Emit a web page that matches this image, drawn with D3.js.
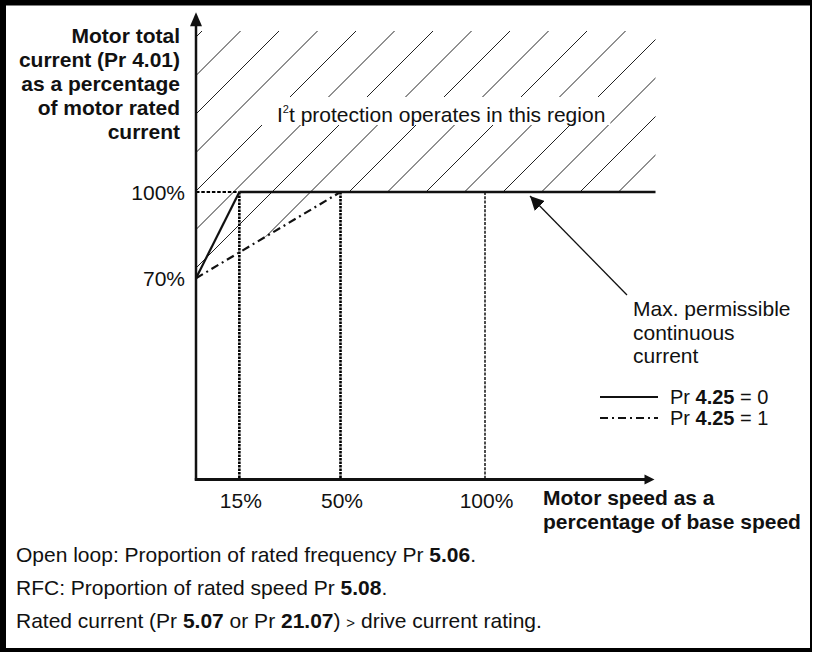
<!DOCTYPE html>
<html>
<head>
<meta charset="utf-8">
<script src="https://cdn.jsdelivr.net/npm/d3@7/dist/d3.min.js"></script>
<style>
  html, body { margin: 0; padding: 0; background: #fff; }
  svg { display: block; }
  text { font-family: "Liberation Sans", Arial, Helvetica, sans-serif; fill: #111; }
</style>
</head>
<body>
<svg id="chart" width="813" height="652"></svg>
<script>
// ---- data ----
const speedTicks = [15, 50, 100];                 // % of base speed (x)
const speedTickLabels = ["15%", "50%", "100%"];
const currentTicks = [70, 100];                   // % of rated current (y)
const currentTickLabels = ["70%", "100%"];
const curveSpeed0 = [0, 15, 159];                 // Pr 4.25 = 0 (solid)
const curveCurrent0 = [70, 100, 100];
const curveSpeed1 = [0, 50];                      // Pr 4.25 = 1 (dash-dot)
const curveCurrent1 = [70, 100];
const xMax = 159, yMaxHatch = 156, yMaxAxis = 162.5;
const yTitleLines = ["Motor total", "current (Pr 4.01)", "as a percentage", "of motor rated", "current"];
const xTitleLines = ["Motor speed as a", "percentage of base speed"];
const noteLines = ["Max. permissible", "continuous", "current"];

const svg = d3.select("#chart");
const FS = 21;
const ink = "#111";

// frame
svg.append("rect").attr("x", 0).attr("y", 0).attr("width", 812).attr("height", 652).attr("fill", "#000");
svg.append("rect").attr("x", 6).attr("y", 5.5).attr("width", 804).attr("height", 642.5).attr("fill", "#fff");

const x = d3.scaleLinear().domain([0, 100]).range([196, 485]);
const y = d3.scaleLinear().domain([0, 100]).range([479.5, 192]);

const defs = svg.append("defs");
// hatch clip: region above the lower (Pr 4.25 = 1) limit
const clipPts = [[0, yMaxHatch], [0, 70], [50, 100], [xMax, 100], [xMax, yMaxHatch]];
defs.append("clipPath").attr("id", "hclip").append("polygon")
  .attr("points", clipPts.map(p => [x(p[0]), y(p[1])].join(",")).join(" "));
defs.append("marker").attr("id", "ah").attr("viewBox", "0 0 10 10").attr("refX", 10).attr("refY", 5)
  .attr("markerWidth", 14).attr("markerHeight", 14).attr("markerUnits", "userSpaceOnUse").attr("orient", "auto")
  .append("path").attr("d", "M0,0 L10,5 L0,10 Z").attr("fill", ink);

// hatching
const hg = svg.append("g").attr("clip-path", "url(#hclip)");
const step = 38.5, c0 = 271.5;
for (let k = -12; k < 22; k++) {
  const C = c0 + k * step;
  hg.append("line").attr("x1", C - 500).attr("y1", 500).attr("x2", C).attr("y2", 0)
    .attr("stroke", "#222").attr("stroke-width", 1);
}

// region label with white background
const rl = svg.append("text").attr("x", 277).attr("y", 122).attr("font-size", FS);
rl.append("tspan").text("I");
rl.append("tspan").attr("font-size", 11).attr("dy", -9).text("2");
rl.append("tspan").attr("dy", 9).text("t protection operates in this region");
const bb = rl.node().getBBox();
svg.insert("rect", "text").attr("x", bb.x - 15).attr("y", 97).attr("width", bb.width + 20).attr("height", 28).attr("fill", "#fff");

// dotted verticals
speedTicks.forEach((s, i) => {
  svg.append("line").attr("x1", x(s)).attr("x2", x(s)).attr("y1", y(100)).attr("y2", y(0))
    .attr("stroke", "#000").attr("stroke-width", i < 2 ? 2.6 : 1.4)
    .attr("stroke-dasharray", i < 2 ? "2.5,1" : "3,1.3");
});
// dashed horizontal at 100% up to 15%
svg.append("line").attr("x1", x(0)).attr("x2", x(15)).attr("y1", y(100)).attr("y2", y(100))
  .attr("stroke", "#000").attr("stroke-width", 2).attr("stroke-dasharray", "3.5,1.8");

const line = d3.line().x(d => x(d[0])).y(d => y(d[1]));
const data0 = curveSpeed0.map((s, i) => [s, curveCurrent0[i]]);
const data1 = curveSpeed1.map((s, i) => [s, curveCurrent1[i]]);
svg.append("path").attr("d", line(data1)).attr("fill", "none").attr("stroke", ink)
  .attr("stroke-width", 2.2).attr("stroke-dasharray", "8,4,2,4");
svg.append("path").attr("d", line(data0.slice(0, 2))).attr("fill", "none").attr("stroke", ink).attr("stroke-width", 2.2);
svg.append("path").attr("d", line(data0.slice(1))).attr("fill", "none").attr("stroke", ink).attr("stroke-width", 2.5);

// axes with arrows
svg.append("line").attr("x1", x(0)).attr("x2", x(0)).attr("y1", y(0) + 1).attr("y2", y(yMaxAxis) + 12)
  .attr("stroke", ink).attr("stroke-width", 2.5);
svg.append("path").attr("d", `M${x(0)},${y(yMaxAxis)} l-6,14 l12,0 Z`).attr("fill", ink);
svg.append("line").attr("x1", x(0) - 1.2).attr("x2", x(xMax) - 8).attr("y1", y(0)).attr("y2", y(0))
  .attr("stroke", ink).attr("stroke-width", 2.8);
svg.append("path").attr("d", `M${x(xMax) - 1},${y(0)} l-10,-5 l0,10 Z`).attr("fill", ink);

// tick labels
svg.selectAll(".xt").data(speedTicks).enter().append("text")
  .attr("x", (d) => x(d) + 1.5).attr("y", 508).attr("text-anchor", "middle").attr("font-size", FS)
  .text((d, i) => speedTickLabels[i]);
svg.selectAll(".yt").data(currentTicks).enter().append("text")
  .attr("x", 185).attr("y", d => y(d) + 7.5).attr("text-anchor", "end").attr("font-size", FS)
  .text((d, i) => currentTickLabels[i]);

// axis titles
yTitleLines.forEach((t, i) => svg.append("text").attr("x", 180).attr("y", 43 + i * 24)
  .attr("text-anchor", "end").attr("font-size", FS).attr("font-weight", "bold").text(t));
xTitleLines.forEach((t, i) => svg.append("text").attr("x", 543).attr("y", 505 + i * 23.5)
  .attr("font-size", FS).attr("font-weight", "bold").text(t));

// annotation
noteLines.forEach((t, i) => svg.append("text").attr("x", 633).attr("y", 316 + i * 23.7)
  .attr("font-size", FS).text(t));
svg.append("line").attr("x1", 627).attr("y1", 295).attr("x2", 530).attr("y2", 196)
  .attr("stroke", ink).attr("stroke-width", 1.3).attr("marker-end", "url(#ah)");

// legend
const legend = [{dash: null, val: "0", y: 397}, {dash: "8,4,2,4", val: "1", y: 418}];
legend.forEach(l => {
  const ln = svg.append("line").attr("x1", 600).attr("x2", 658).attr("y1", l.y).attr("y2", l.y)
    .attr("stroke", ink).attr("stroke-width", 2);
  if (l.dash) ln.attr("stroke-dasharray", l.dash);
  const t = svg.append("text").attr("x", 670).attr("y", l.y + 7).attr("font-size", 20);
  t.append("tspan").text("Pr ");
  t.append("tspan").attr("font-weight", "bold").text("4.25");
  t.append("tspan").text(" = " + l.val);
});

// footnotes
const notes = [
  [["Open loop: Proportion of rated frequency Pr ", 0], ["5.06", 1], [".", 0]],
  [["RFC: Proportion of rated speed Pr ", 0], ["5.08", 1], [".", 0]],
  [["Rated current (Pr ", 0], ["5.07", 1], [" or Pr ", 0], ["21.07", 1], [") ", 0], [">", 2], [" drive current rating.", 0]]
];
notes.forEach((parts, i) => {
  const t = svg.append("text").attr("x", 16).attr("y", 562 + i * 33).attr("font-size", FS);
  parts.forEach(p => {
    const ts = t.append("tspan").text(p[0]);
    if (p[1] === 1) ts.attr("font-weight", "bold");
    if (p[1] === 2) ts.attr("font-size", 15);
  });
});
</script>
</body>
</html>
